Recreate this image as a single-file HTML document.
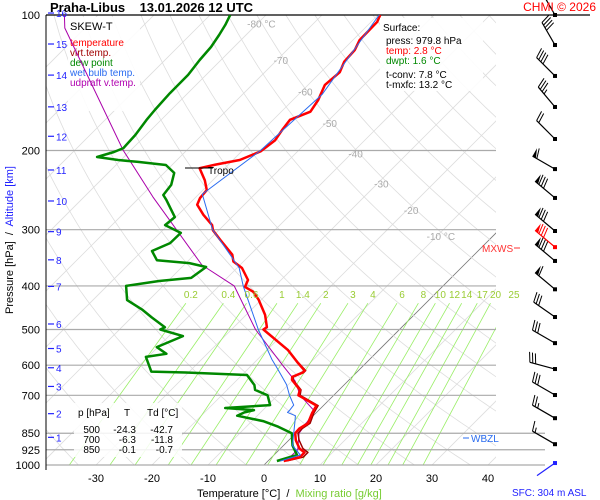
<!DOCTYPE html>
<html><head><meta charset="utf-8"><style>
body{margin:0;background:#fff;}
svg{display:block;font-family:"Liberation Sans",sans-serif;}
</style></head><body>
<svg id="chart" width="600" height="500" viewBox="0 0 600 500" xmlns="http://www.w3.org/2000/svg">
<defs><clipPath id="plotclip"><rect x="46" y="15" width="450" height="450"/></clipPath></defs>
<rect width="600" height="500" fill="#fff"/>
<g id="bg" clip-path="url(#plotclip)"></g>
<g id="grid"></g>
<g>
<rect x="68" y="17" width="72" height="94" fill="#fff" opacity="0.9"/>
<text x="70" y="30" font-size="11" fill="#000">SKEW-T</text>
<text x="70" y="46" font-size="10" fill="#f00">temperature</text>
<text x="70" y="56" font-size="10" fill="#a00000">virt.temp.</text>
<text x="70" y="66" font-size="10" fill="#080">dew point</text>
<text x="70" y="76" font-size="10" fill="#2a6cf0">wet bulb temp.</text>
<text x="70" y="86" font-size="10" fill="#b000b0">udpraft v.temp.</text>
</g>
<g id="series" clip-path="url(#plotclip)"></g>
<g id="labels"></g>
<g id="barbs"></g>
<text x="50" y="12" font-size="13" font-weight="bold" fill="#000" xml:space="preserve">Praha-Libus    13.01.2026 12 UTC</text>
<text x="596" y="11" font-size="12" fill="#f00" text-anchor="end">CHMI © 2026</text>
<g>
<rect x="380" y="18" width="103" height="73" fill="#fff" opacity="0.9"/>
<text x="383" y="31" font-size="10">Surface:</text>
<text x="386" y="44" font-size="10">press: 979.8 hPa</text>
<text x="386" y="54" font-size="10" fill="#f00">temp: 2.8 °C</text>
<text x="386" y="64" font-size="10" fill="#080">dwpt: 1.6 °C</text>
<text x="386" y="78" font-size="10">t-conv: 7.8 °C</text>
<text x="386" y="88" font-size="10">t-mxfc: 13.2 °C</text>
</g>
<g font-size="10">
<rect x="74" y="403" width="108" height="54" fill="#fff" opacity="0.85"/>
<text x="78" y="416">p [hPa]</text><text x="127" y="416" text-anchor="middle">T</text><text x="147" y="416">Td [°C]</text>
<text x="100" y="433" text-anchor="end">500</text><text x="136" y="433" text-anchor="end">-24.3</text><text x="173" y="433" text-anchor="end">-42.7</text>
<text x="100" y="443" text-anchor="end">700</text><text x="136" y="443" text-anchor="end">-6.3</text><text x="173" y="443" text-anchor="end">-11.8</text>
<text x="100" y="453" text-anchor="end">850</text><text x="136" y="453" text-anchor="end">-0.1</text><text x="173" y="453" text-anchor="end">-0.7</text>
</g>
<text x="208" y="174" font-size="10">Tropo</text>
<line x1="185" y1="168" x2="213" y2="168" stroke="#000" stroke-width="1"/>
<text x="482" y="252" font-size="10" fill="#f33">MXWS</text>
<line x1="514" y1="248" x2="520" y2="248" stroke="#f33"/>
<line x1="463" y1="438" x2="469" y2="438" stroke="#2a6cf0"/>
<text x="471" y="442" font-size="10" fill="#2a6cf0">WBZL</text>
<text x="512" y="496" font-size="10" fill="#22f">SFC: 304 m ASL</text>
<text x="197" y="497" font-size="11" xml:space="preserve"><tspan fill="#000">Temperature [°C]  /  </tspan><tspan fill="#7c3">Mixing ratio [g/kg]</tspan></text>
<text transform="translate(13,240) rotate(-90)" font-size="11" text-anchor="middle" xml:space="preserve"><tspan fill="#000">Pressure [hPa]  /  </tspan><tspan fill="#22f">Altitude [km]</tspan></text>
<script>
// ---- data ----
const tempP=[100,103.6,113.7,119.6,127,134,143,154.5,164,171,180,190,201,210,215,219,233,245,255,264,278,293,301,316,341,353,365,388,402,412,429,464,494,500,555,590,617,623,637,647,681,700,738,766,808,830,850,881,919,938,961,979.8];
const tempT=[-59.6,-58.9,-58.8,-57.9,-57.7,-56.6,-57,-55.5,-54.8,-57,-56.6,-56,-56.6,-58.8,-62.3,-64.5,-61.4,-59.3,-59.1,-58.4,-55.5,-52.1,-51,-48,-43.2,-41.8,-39.1,-35.9,-35.2,-32.9,-30.5,-26.6,-24.1,-24.3,-16.3,-12.5,-9.6,-9.6,-10.7,-10.2,-7,-6.3,-1.25,-0.7,0.4,-0.2,-0.1,1.25,3.4,5,5,2.8];
const virtOffset=[0,0,0,0,0,0,0,0,0,0,0,0,0,0,0,0,0,0,0,0,0,0,0,0,0,0,0,0,0,0,0,0,0,0,0.1,0.1,0.2,0.2,0.2,0.2,0.2,0.3,0.3,0.3,0.4,0.5,0.5,0.6,0.6,0.6,0.6,0.5];
const dewP=[100,105.2,110.8,117.8,125.9,135.9,149.1,162.6,171.2,184.8,197.6,201.6,206.8,210,212.1,215.4,224.3,238.5,251.2,257.5,281.3,293,305,321.3,334.6,350.6,355.9,363.1,384,390,400,430,451,470,494,500,517,547,566,575,620,623,631,664,681,700,736,747,755,764,777,799,822,850,905,950,979.8];
const dewT=[-86.4,-85.5,-84.8,-84.1,-83.8,-83.2,-83.2,-82.9,-82.6,-81.9,-81.7,-82.7,-84.8,-80.5,-76.6,-71.1,-68.2,-66.6,-66.2,-64.8,-60.2,-60.5,-56.3,-56.4,-58.2,-55.7,-49.4,-45.7,-46.4,-51.6,-56.6,-53.9,-49.6,-46.4,-42.3,-42.7,-37.5,-40.2,-37.3,-40.4,-36.8,-30.5,-19.1,-16,-15,-11.8,-9.6,-17.1,-11.6,-12.9,-13.6,-8,-4.3,-0.7,1.6,4.1,1.6];
const wetP=[100,150,200,250,300,341,365,400,500,582,614,663,700,736,755,764,777,799,860,905,950,979.8];
const wetT=[-59.8,-55.8,-56.8,-59.4,-51.2,-43.6,-39.6,-35.7,-25.2,-17.5,-14.5,-10.3,-7.9,-5.4,-5.2,-5.2,-3.2,-2.3,0,1.6,4.7,2.2];
const parcelP=[100,106.9,199.6,253.7,359.4,400,500,600,650,700,760,850,925,979.8];
const parcelT=[-116,-113.6,-81.4,-67.7,-46.8,-37.3,-25.7,-14.5,-9.5,-6,-0.5,0.6,3.3,3.2];
const pressureTicks=[100,200,300,400,500,600,700,850,925,1000];
const tempTicks=[-30,-20,-10,0,10,20,30,40];
const isoLabels=[-80,-70,-60,-50,-40,-30,-20,-10];
const isoLabelP=[104.5,126,148,174,203,237,271,310];
const mixRatios=[0.2,0.4,0.6,1,1.4,2,3,4,6,8,10,12,14,17,20,25];
const altKm=[1,2,3,4,5,6,7,8,9,10,11,12,13,14,15,16];
const altP=[868,769,669,608,551,486,401,350,303,259,221,186,160,136,116,99];
const barbP=[100,116.6,136.6,160.1,188.6,220,255,302,328,352,407,469,536,612,699,787,899,990];
const barbDir=[330,330,315,320,315,300,310,310,310,310,310,305,300,285,300,300,300,235];
const barbSpd=[40,40,40,35,20,60,80,80,80,80,60,30,30,30,30,25,15,0];
// ---- axes ----
const Y=p=>15+450*Math.log10(p/100);
const X=(T,p)=>264+5.6*T+(465-Y(p));
const NS="http://www.w3.org/2000/svg";
function mk(tag,attrs,parent){const e=document.createElementNS(NS,tag);for(const k in attrs)e.setAttribute(k,attrs[k]);parent.appendChild(e);return e;}
const bg=document.getElementById('bg'),grid=document.getElementById('grid'),ser=document.getElementById('series'),lab=document.getElementById('labels'),bar=document.getElementById('barbs');
for(let T=-170;T<=50;T+=10){const l=mk('line',{x1:X(T,1050),y1:Y(1050),x2:X(T,100),y2:Y(100),stroke:T===0?'#777':'#ddd','stroke-width':0.8},bg);

}
for(let th=230;th<=500;th+=10){let d='';for(let p=1050;p>=100;p-=10){const T=th*Math.pow(p/1000,0.286)-273.15;d+=(d?'L':'M')+X(T,p).toFixed(1)+','+Y(p).toFixed(1);}
const a=mk('path',{d:d,fill:'none',stroke:'#ddd','stroke-width':0.8},bg);

}
function tdFromW(w,p){const e=w*p/(622+w);const l=Math.log(e/6.112);return 243.5*l/(17.67-l);}
mixRatios.forEach(w=>{const l=mk('line',{x1:X(tdFromW(w,1050),1050),y1:Y(1050),x2:X(tdFromW(w,437),437),y2:Y(437),stroke:'#9e6','stroke-width':0.8},bg);


const t=mk('text',{x:X(tdFromW(w,437),437)+5,y:298,'font-size':10,fill:'#9c3','text-anchor':'middle'},lab);t.textContent=w;

});
pressureTicks.forEach(p=>{const y=Y(p);const right=p>=850?545:496;
const l=mk('line',{x1:46,y1:y,x2:p===100?590:right,y2:y,stroke:p===100?'#000':'#aaa','stroke-width':1.2},grid);


const t=mk('text',{x:40,y:y+4,'font-size':11,'text-anchor':'end'},lab);t.textContent=p;

});
const ax=mk('line',{x1:46,y1:15,x2:46,y2:470,stroke:'#000','stroke-width':1},grid);


tempTicks.forEach(T=>{const t=mk('text',{x:X(T,1000),y:482,'font-size':11,'text-anchor':'middle'},lab);t.textContent=T;

});
isoLabels.forEach((T,i)=>{const p=isoLabelP[i];const t=mk('text',{x:X(T,p)+4,y:Y(p)+4,'font-size':10,fill:'#aaa','text-anchor':'middle'},lab);t.textContent=T+((T===-80||T===-10)?' °C':'');

});
altKm.forEach((k,i)=>{const y=Y(altP[i]);mk('line',{x1:48,y1:y,x2:54,y2:y,stroke:'#22f','stroke-width':1.2},lab);
const t=mk('text',{x:56,y:y+4,'font-size':10,fill:'#22f'},lab);t.textContent=k;

});
function path(P,T,color,w,name){let d='';P.forEach((p,i)=>{d+=(i?'L':'M')+X(T[i],p).toFixed(1)+','+Y(p).toFixed(1);});
const e=mk('path',{d:d,fill:'none',stroke:color,'stroke-width':w,'stroke-linejoin':'round'},ser);

}
path(parcelP,parcelT,'#a0a','1','parcel-line');
path(dewP,dewT,'#080','2.5','dewpoint-line');
path(tempP,tempP.map((p,i)=>tempT[i]+virtOffset[i]),'#a00000','1.5','virtual-temperature-line');
path(tempP,tempT,'#f00','2.5','temperature-line');
path(wetP,wetT,'#2a6cf0','1','wet-bulb-line');
barbP.forEach((p,i)=>{const y=Y(p),x=555,d=barbDir[i]*Math.PI/180;const ux=Math.sin(d),uy=-Math.cos(d);
const col=i===8?'#f00':(i===barbP.length-1?'#22f':'#000');const L=i===barbP.length-1?22:26;
const ex=x+ux*L,ey=y+uy*L;
const g=mk('g',{},bar);


mk('line',{x1:x,y1:y,x2:ex,y2:ey,stroke:col,'stroke-width':1.2},g);
mk('rect',{x:x-2,y:y-2,width:4,height:4,fill:col},g);
const fx=-uy,fy=ux;let s=barbSpd[i],pos=0;
while(s>=50){const bx=ex-ux*pos,by=ey-uy*pos;mk('polygon',{points:`${bx},${by} ${bx+fx*9},${by+fy*9} ${bx-ux*4},${by-uy*4}`,fill:col},g);pos+=5;s-=50;}
while(s>=10){const bx=ex-ux*pos,by=ey-uy*pos;mk('line',{x1:bx,y1:by,x2:bx+fx*10+ux*3,y2:by+fy*10+uy*3,stroke:col,'stroke-width':1},g);pos+=3;s-=10;}
if(s>=5){const bx=ex-ux*pos,by=ey-uy*pos;mk('line',{x1:bx,y1:by,x2:bx+fx*5+ux*1.5,y2:by+fy*5+uy*1.5,stroke:col,'stroke-width':1},g);}
});
</script>
</svg>
</body></html>
